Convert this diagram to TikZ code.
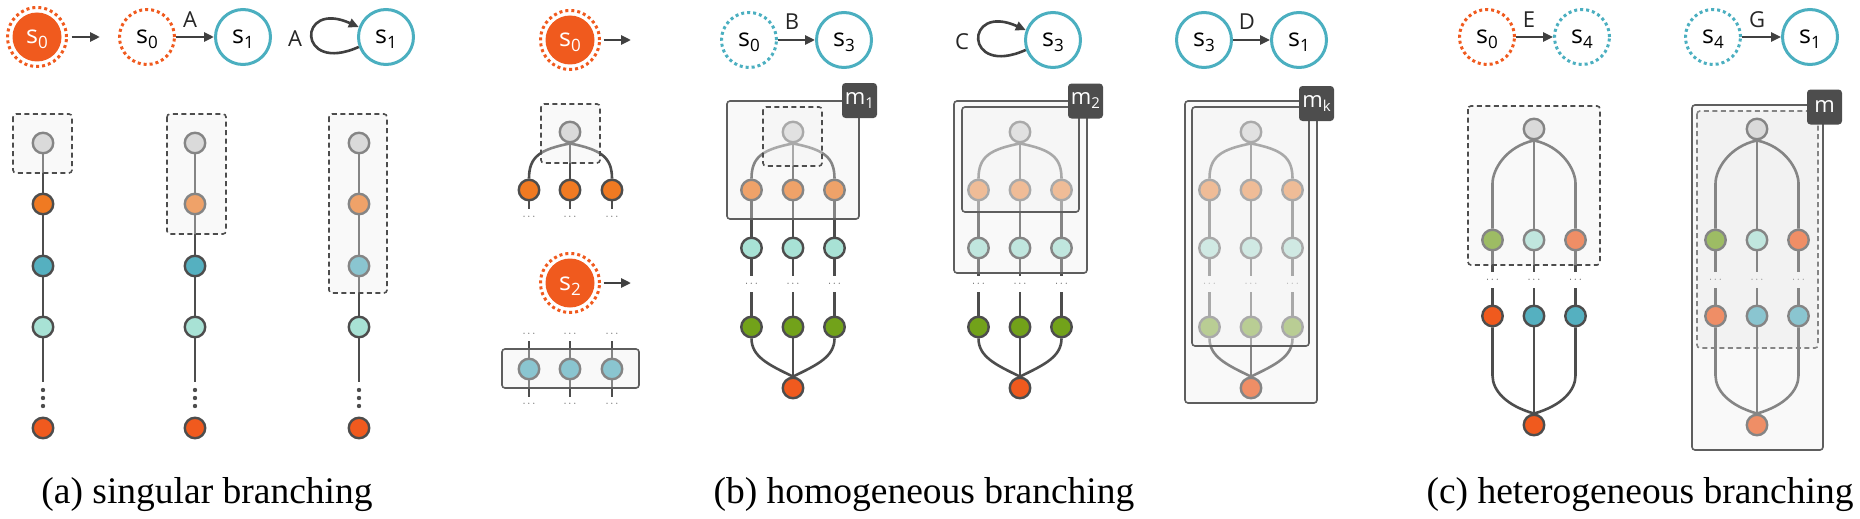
\documentclass[tikz,border=0pt]{standalone}
\usepackage{fontspec}
\setmainfont{Liberation Serif}
\newfontfamily\lab{Open Sans}
\usetikzlibrary{arrows.meta}
\pgfdeclarelayer{back}
\pgfdeclarelayer{edges}
\pgfdeclarelayer{ovl}
\pgfdeclarelayer{top}
\pgfsetlayers{back,edges,main,ovl,top}
\definecolor{dk}{HTML}{4D4D4D}
\definecolor{arrc}{HTML}{404040}
\definecolor{tl}{HTML}{4BAFC0}
\definecolor{rd}{HTML}{F05A1E}
\definecolor{org}{HTML}{F07A22}
\definecolor{teal2}{HTML}{55B0C0}
\definecolor{lteal}{HTML}{A8E2D5}
\definecolor{grn}{HTML}{72A21A}
\definecolor{rootg}{HTML}{D0D0D0}
\definecolor{ov}{HTML}{EFEFEF}
\definecolor{bkf}{HTML}{F4F4F4}
\definecolor{bxg}{HTML}{5E5E5E}
\newcommand{\mysub}[2]{#1\raisebox{-5pt}{\fontsize{17}{17}\selectfont #2}}
\newcommand{\msub}[2]{#1\raisebox{-4pt}{\fontsize{15}{15}\selectfont #2}}
\tikzset{
  nd/.style={circle, draw=dk, line width=2.4pt, minimum size=20.5pt, inner sep=0pt},
  rootn/.style={nd, fill=rootg},
  stn/.style={circle, minimum size=55pt, inner sep=0pt, font=\lab\fontsize{25}{25}\selectfont, text height=19pt, text depth=5pt},
  solidst/.style={stn, draw=tl, line width=3pt},
  dotor/.style={stn, draw=rd, line width=3pt, dash pattern=on 3pt off 3pt},
  dottl/.style={stn, draw=tl, line width=3pt, dash pattern=on 3pt off 3pt},
  fillst/.style={stn, fill=rd, text=white, minimum size=49pt},
  ring/.style={draw=rd, line width=3pt, dash pattern=on 3pt off 3pt},
  arr/.style={draw=arrc, line width=2.6pt, -{Triangle[length=10pt,width=9pt]}},
  lbl/.style={font=\lab\fontsize{22}{22}\selectfont, text=black!85, inner sep=0pt},
  edg/.style={draw=dk, line width=2.6pt},
  edgthin/.style={draw=dk, line width=1.6pt},
  dotsn/.style={inner sep=0pt, font=\fontsize{11}{11}\selectfont, text=dk},
  ovsolid/.style={draw=bxg, line width=1.6pt, fill=ov, fill opacity=0.35, rounded corners=3pt},
  ovdash/.style={draw=dk, line width=1.6pt, dash pattern=on 5pt off 3.5pt, fill=ov, fill opacity=0.35, rounded corners=3pt},
  backdash/.style={draw=dk, line width=1.6pt, dash pattern=on 5pt off 3.5pt, fill=bkf, rounded corners=3pt},
  mlab/.style={rectangle, rounded corners=3.5pt, fill=dk, text=white, minimum width=35pt, minimum height=35pt, inner sep=0pt, font=\lab\fontsize{22}{22}\selectfont},
  capt/.style={anchor=base, inner sep=0pt, font=\fontsize{37.5}{40}\selectfont}
}
\newcommand{\ringnode}[3]{%
  \node[fillst] (#1) at #2 {#3};
  \draw[ring] (#1.center) circle[radius=29.5pt];
}
\newcommand{\BTree}[2]{%
  \node[rootn] (#1r) at (#2,132) {};
  \foreach \i/\dx in {1/-41.5,2/0,3/41.5} {
    \node[nd, fill=org] (#1a\i) at ({#2+\dx},190) {};
    \node[nd, fill=lteal] (#1b\i) at ({#2+\dx},248) {};
    \node[dotsn] (#1d\i) at ({#2+\dx},284) {$\cdots$};
    \node[nd, fill=grn] (#1c\i) at ({#2+\dx},327) {};
    \coordinate (#1u\i) at ({#2+\dx},276);
    \coordinate (#1v\i) at ({#2+\dx},292);
  }
  \node[nd, fill=rd] (#1z) at (#2,388) {};
  \begin{pgfonlayer}{edges}
    \draw[edg] (#1r.south) .. controls +(-30,6) and +(0,-22) .. (#1a1.north);
    \draw[edg] (#1r) -- (#1a2);
    \draw[edg] (#1r.south) .. controls +(30,6) and +(0,-22) .. (#1a3.north);
    \foreach \i in {1,2,3} {
      \draw[edg] (#1a\i) -- (#1b\i);
      \draw[edg] (#1b\i) -- (#1u\i);
      \draw[edg] (#1v\i) -- (#1c\i);
    }
    \draw[edg] (#1c1.south) .. controls +(0,18) and +(-25,-12) .. (#1z.north);
    \draw[edg] (#1c2) -- (#1z);
    \draw[edg] (#1c3.south) .. controls +(0,18) and +(25,-12) .. (#1z.north);
  \end{pgfonlayer}
}
\newcommand{\CTree}[2]{%
  \node[rootn] (#1r) at (#2,129) {};
  \foreach \i/\dx/\ca/\cb in {1/-41.5/grn/rd, 2/0/lteal/teal2, 3/41.5/rd/teal2} {
    \node[nd, fill=\ca] (#1a\i) at ({#2+\dx},240) {};
    \node[dotsn] (#1d\i) at ({#2+\dx},280) {$\cdots$};
    \node[nd, fill=\cb] (#1c\i) at ({#2+\dx},316) {};
    \coordinate (#1u\i) at ({#2+\dx},272);
    \coordinate (#1v\i) at ({#2+\dx},288);
  }
  \node[nd, fill=rd] (#1z) at (#2,425) {};
  \begin{pgfonlayer}{edges}
    \draw[edg] (#1r.south) .. controls +(-28,6) and +(0,-14) .. ([yshift=45pt]#1a1.north) -- (#1a1.north);
    \draw[edg] (#1r) -- (#1a2);
    \draw[edg] (#1r.south) .. controls +(28,6) and +(0,-14) .. ([yshift=45pt]#1a3.north) -- (#1a3.north);
    \foreach \i in {1,2,3} {
      \draw[edg] (#1a\i) -- (#1u\i);
      \draw[edg] (#1v\i) -- (#1c\i);
    }
    \draw[edg] (#1c1.south) -- ([yshift=-48pt]#1c1.south) .. controls +(0,15) and +(-28,-8) .. (#1z.north);
    \draw[edg] (#1c2) -- (#1z);
    \draw[edg] (#1c3.south) -- ([yshift=-48pt]#1c3.south) .. controls +(0,15) and +(28,-8) .. (#1z.north);
  \end{pgfonlayer}
}
\begin{document}
\begin{tikzpicture}[x=1pt,y=-1pt]
\useasboundingbox (0,0) rectangle (1860,519);

% ================= (a) =================
\ringnode{a0}{(37,37)}{\mysub{s}{0}}
\coordinate (a0e) at (100,37);
\draw[arr, shorten <=10pt] (a0) -- (a0e);
\node[dotor] (a1) at (147,37) {\mysub{s}{0}};
\node[solidst] (a2) at (243,37) {\mysub{s}{1}};
\draw[arr] (a1) -- (a2);
\node[lbl] (la1) at (190,20) {A};
\node[lbl] (la2) at (295,39) {A};
\node[solidst] (a3) at (386,37) {\mysub{s}{1}};
\draw[arr] (a3.200) .. controls +(-62,28) and +(-62,-28) .. (a3.160);

% column 1
\node[rootn] (p1r) at (43,143) {};
\node[nd,fill=org] (p1b) at (43,204) {};
\node[nd,fill=teal2] (p1c) at (43,266) {};
\node[nd,fill=lteal] (p1d) at (43,327) {};
\node[nd,fill=rd] (p1e) at (43,428) {};
\coordinate (p1f) at (43,382);
\fill[dk] (43,390) circle[radius=2.2pt] (43,398) circle[radius=2.2pt] (43,406) circle[radius=2.2pt];
% column 2
\node[rootn] (p2r) at (195,143) {};
\node[nd,fill=org] (p2b) at (195,204) {};
\node[nd,fill=teal2] (p2c) at (195,266) {};
\node[nd,fill=lteal] (p2d) at (195,327) {};
\node[nd,fill=rd] (p2e) at (195,428) {};
\coordinate (p2f) at (195,382);
\fill[dk] (195,390) circle[radius=2.2pt] (195,398) circle[radius=2.2pt] (195,406) circle[radius=2.2pt];
% column 3
\node[rootn] (p3r) at (359,143) {};
\node[nd,fill=org] (p3b) at (359,204) {};
\node[nd,fill=teal2] (p3c) at (359,266) {};
\node[nd,fill=lteal] (p3d) at (359,327) {};
\node[nd,fill=rd] (p3e) at (359,428) {};
\coordinate (p3f) at (359,382);
\fill[dk] (359,390) circle[radius=2.2pt] (359,398) circle[radius=2.2pt] (359,406) circle[radius=2.2pt];
\begin{pgfonlayer}{edges}
  \draw[edg] (p1r) -- (p1b) -- (p1c) -- (p1d) -- (p1f);
  \draw[edg] (p2r) -- (p2b) -- (p2c) -- (p2d) -- (p2f);
  \draw[edg] (p3r) -- (p3b) -- (p3c);
  \draw[edgthin] (p3c) -- (p3d) -- (p3f);
\end{pgfonlayer}
\begin{pgfonlayer}{ovl}
  \draw[ovdash] (13,114) rectangle (72,173);
  \draw[ovdash] (167,114) rectangle (226,234);
  \draw[ovdash] (329,114) rectangle (387,293);
\end{pgfonlayer}

% ================= (b) =================
\ringnode{b0}{(570,40)}{\mysub{s}{0}}
\coordinate (b0e) at (631,40);
\draw[arr, shorten <=9pt] (b0) -- (b0e);
\node[rootn] (qr) at (570,132) {};
\foreach \i/\x in {1/529,2/570,3/612} {
  \node[nd, fill=org] (q\i) at (\x,190) {};
  \coordinate (qs\i) at (\x,209);
  \node[dotsn] (qd\i) at (\x,217) {$\cdots$};
}
\begin{pgfonlayer}{edges}
  \draw[edg] (qr.south) .. controls +(-30,6) and +(0,-22) .. (q1.north);
  \draw[edg] (qr) -- (q2);
  \draw[edg] (qr.south) .. controls +(30,6) and +(0,-22) .. (q3.north);
  \foreach \i in {1,2,3} { \draw[edg] (q\i) -- (qs\i); }
\end{pgfonlayer}
\begin{pgfonlayer}{ovl}
  \draw[ovdash] (541,104) rectangle (600,163);
\end{pgfonlayer}

\ringnode{b2}{(570,283)}{\mysub{s}{2}}
\coordinate (b2e) at (631,283);
\draw[arr, shorten <=9pt] (b2) -- (b2e);
\foreach \i/\x in {1/529,2/570,3/612} {
  \node[dotsn] (qt\i) at (\x,334) {$\cdots$};
  \coordinate (qu\i) at (\x,341);
  \node[nd, fill=teal2] (qn\i) at (\x,369) {};
  \coordinate (qw\i) at (\x,397);
  \node[dotsn] (qe\i) at (\x,404) {$\cdots$};
}
\begin{pgfonlayer}{edges}
  \foreach \i in {1,2,3} { \draw[edg] (qu\i) -- (qn\i) -- (qw\i); }
\end{pgfonlayer}
\begin{pgfonlayer}{ovl}
  \draw[ovsolid] (502,349) rectangle (639,388);
\end{pgfonlayer}

% B
\node[dottl] (b3) at (749,40) {\mysub{s}{0}};
\node[solidst] (b4) at (844,40) {\mysub{s}{3}};
\draw[arr] (b3) -- (b4);
\node[lbl] (lb) at (792,22) {B};
\BTree{ta}{793}
\begin{pgfonlayer}{ovl}
  \draw[ovsolid] (727,101) rectangle (859,219);
  \draw[ovdash] (763,107) rectangle (822,166);
\end{pgfonlayer}
\begin{pgfonlayer}{top}
  \node[mlab] (m1) at (859.5,100.5) {\msub{m}{1}};
\end{pgfonlayer}

% C
\node[lbl] (lc) at (962,42) {C};
\node[solidst] (c3) at (1053,40) {\mysub{s}{3}};
\draw[arr] (c3.200) .. controls +(-62,28) and +(-62,-28) .. (c3.160);
\BTree{tb}{1020}
\begin{pgfonlayer}{ovl}
  \draw[ovsolid] (954,101) rectangle (1087,273);
  \draw[ovsolid] (962,107) rectangle (1079,212);
\end{pgfonlayer}
\begin{pgfonlayer}{top}
  \node[mlab] (m2) at (1085.5,101) {\msub{m}{2}};
\end{pgfonlayer}

% D
\node[solidst] (d3) at (1204,40) {\mysub{s}{3}};
\node[solidst] (d1) at (1299,40) {\mysub{s}{1}};
\draw[arr] (d3) -- (d1);
\node[lbl] (ld) at (1247,22) {D};
\BTree{tc}{1251}
\begin{pgfonlayer}{ovl}
  \draw[ovsolid] (1185,101) rectangle (1317,403);
  \draw[ovsolid] (1192,107) rectangle (1309,346);
\end{pgfonlayer}
\begin{pgfonlayer}{top}
  \node[mlab] (mk) at (1316.5,103.5) {\msub{m}{k}};
\end{pgfonlayer}

% ================= (c) =================
\node[dotor] (e0) at (1487,37) {\mysub{s}{0}};
\node[dottl] (e4) at (1582,37) {\mysub{s}{4}};
\draw[arr] (e0) -- (e4);
\node[lbl] (le) at (1529,20) {E};
\node[dottl] (g4) at (1713,37) {\mysub{s}{4}};
\node[solidst] (g1) at (1810,37) {\mysub{s}{1}};
\draw[arr] (g4) -- (g1);
\node[lbl] (lg) at (1757,20) {G};

\CTree{ua}{1534}
\begin{pgfonlayer}{ovl}
  \draw[ovdash] (1468,106) rectangle (1600,265);
\end{pgfonlayer}

\begin{pgfonlayer}{back}
  \draw[backdash] (1697,111) rectangle (1818,348);
\end{pgfonlayer}
\CTree{ub}{1757}
\begin{pgfonlayer}{ovl}
  \draw[ovsolid] (1692,105) rectangle (1823,450);
\end{pgfonlayer}
\begin{pgfonlayer}{top}
  \node[mlab] (mm) at (1824.5,107) {m};
\end{pgfonlayer}

% captions
\node[capt] (capa) at (207,503) {(a) singular branching};
\node[capt] (capb) at (924,503) {(b) homogeneous branching};
\node[capt] (capc) at (1640,503) {(c) heterogeneous branching};
\end{tikzpicture}
\end{document}
